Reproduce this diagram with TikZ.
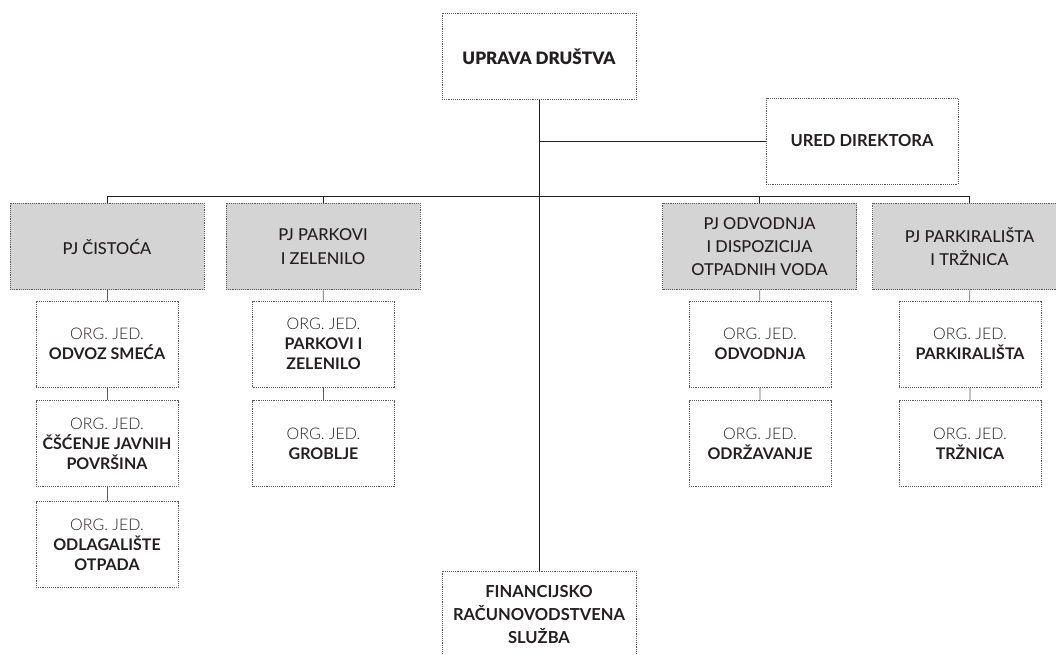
\documentclass[tikz,border=0pt]{standalone}
\usepackage{fontspec}
\setmainfont{Lato}
\newfontfamily\lightfont{Lato Light}
\newfontfamily\semifont{Lato Medium}
\newfontfamily\blackfont{Lato Black}
\usetikzlibrary{positioning}
\definecolor{xgray}{HTML}{D4D4D5}
\definecolor{xline}{HTML}{231F20}
\definecolor{xdot}{HTML}{5A5A5A}
\tikzset{
	box/.style = {draw=xdot, line width=0.7pt, dash pattern=on 0.7pt off 0.7pt, align=center, inner sep=2pt, text=xline},
	pj/.style = {box, fill=xgray, minimum width=145.5pt, minimum height=65pt, font=\fontsize{12.3}{17.5}\selectfont\semifont},
	org/.style = {box, minimum width=106.5pt, minimum height=64.5pt, font=\fontsize{12}{15}\selectfont\bfseries},
	head/.style = {box, minimum width=145.5pt, minimum height=65pt, font=\fontsize{12.4}{17}\selectfont\bfseries},
	link/.style = {draw=xline, line width=0.6pt},
	tick/.style = {draw=xdot, line width=0.6pt},
}
\newcommand\orgjed{{\mdseries\lightfont ORG. JED.}\\}

\begin{document}
\begin{tikzpicture}[x=0.75pt, y=-0.75pt]
			\clip (0,0) rectangle (1056,654);
			\node[head, font=\fontsize{12.8}{15}\selectfont\blackfont] (uprava) at (539,56.5) {UPRAVA DRUŠTVA};
			\node[head, minimum width=144pt, minimum height=64.5pt] (ured) at (862,141) {URED DIREKTORA};
			\node[head] (fin) at (539,614.5) {FINANCIJSKO\\RAČUNOVODSTVENA\\SLUŽBA};
			\node[pj] (cist) at (107,246.5) {PJ ČISTOĆA};
			\node[pj] (park) at (323,246.5) {PJ PARKOVI\\I ZELENILO};
			\node[pj] (odvod) at (759.5,246.5) {PJ ODVODNJA\\I DISPOZICIJA\\OTPADNIH VODA};
			\node[pj] (parkir) at (969.5,246.5) {PJ PARKIRALIŠTA\\I TRŽNICA};
			\node[org] (smece) at (107,344) {\orgjed ODVOZ SMEĆA};
			\node[org] (cisc) at (107,443.5) {\orgjed ČŠĆENJE JAVNIH\\POVRŠINA};
			\node[org] (odlag) at (107,544.5) {\orgjed ODLAGALIŠTE\\OTPADA};
			\node[org] (zelen) at (323.5,344) {\orgjed PARKOVI I\\ZELENILO};
			\node[org] (groblje) at (323.5,443.5) {\orgjed GROBLJE};
			\node[org] (odvodnja) at (760,344) {\orgjed ODVODNJA};
			\node[org] (odrz) at (760,443.5) {\orgjed ODRŽAVANJE};
			\node[org] (parkirl) at (970,344) {\orgjed PARKIRALIŠTA};
			\node[org] (trznica) at (970,443.5) {\orgjed TRŽNICA};
			\coordinate (bus) at (0,196);
			% trunk, ured, bus
			\draw[link] (uprava.south) -- (fin.north);
			\draw[link] (uprava.south |- ured.west) -- (ured.west);
			\draw[link] (cist.north) -- (cist.north |- bus) -- (parkir.north |- bus) -- (parkir.north);
			\draw[link] (park.north |- bus) -- (park.north);
			\draw[link] (odvod.north |- bus) -- (odvod.north);
			% columns
			\draw[tick] (cist) -- (smece) (smece) -- (cisc) (cisc) -- (odlag);
			\draw[tick] (park) -- (zelen) (zelen) -- (groblje);
			\draw[tick] (odvod) -- (odvodnja) (odvodnja) -- (odrz);
			\draw[tick] (parkir) -- (parkirl) (parkirl) -- (trznica);
		\end{tikzpicture}
\end{document}
